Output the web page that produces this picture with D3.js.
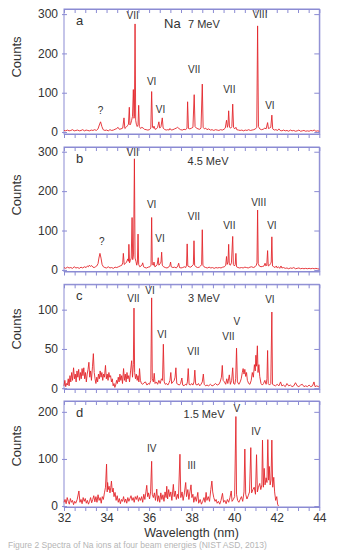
<!DOCTYPE html>
<html>
<head>
<meta charset="utf-8">
<script src="https://cdn.jsdelivr.net/npm/d3@7/dist/d3.min.js"></script>
<style>
  body { margin: 0; background: #fff; }
  text { font-family: "Liberation Sans", Arial, sans-serif; fill: #333; }
  .frame { fill: none; stroke: #8b8bd3; stroke-width: 1; }
  .axis path, .axis line { stroke: #8b8bd3; stroke-width: 1; }
  .axis text { font-size: 12px; fill: #333; }
  .spec { fill: none; stroke: #e3262b; stroke-width: 0.9; stroke-linejoin: round; }
  .lab { font-size: 10px; text-anchor: middle; }
</style>
</head>
<body>
<div class="chart"></div>
<script>
// x tick marks (nm) and the labelled ones
var xTickMarks = [32, 32.5, 33, 33.5, 34, 34.5, 35, 35.5, 36, 36.5, 37, 37.5, 38, 38.5, 39, 39.5, 40, 40.5, 41, 41.5, 42, 42.5, 43, 43.5, 44]
var xTickLabels = [32, 34, 36, 38, 40, 42, 44]

var yTicksA = [0, 100, 200, 300]
var yTicksB = [0, 100, 200, 300]
var yTicksC = [0, 50, 100]
var yTicksD = [0, 100, 200]

// spectra: [wavelength nm, counts]
var specA = [[32.00,4],[32.08,3],[32.16,5],[32.24,3],[32.32,4],[32.40,6],[32.48,3],[32.56,4],[32.64,5],[32.72,3],[32.80,4],[32.88,6],[32.96,3],[33.04,5],[33.12,4],[33.20,3],[33.28,5],[33.36,4],[33.44,6],[33.52,4],[33.60,8],[33.66,18],[33.72,26],[33.78,14],[33.84,6],[33.92,4],[34.00,5],[34.08,3],[34.16,6],[34.24,4],[34.32,5],[34.40,7],[34.48,9],[34.54,12],[34.60,7],[34.68,8],[34.76,10],[34.82,36],[34.86,9],[34.92,12],[34.98,16],[35.03,20],[35.07,63],[35.10,18],[35.14,22],[35.18,30],[35.22,40],[35.26,108],[35.29,35],[35.31,40],[35.34,275],[35.37,30],[35.40,20],[35.44,14],[35.48,18],[35.51,68],[35.54,14],[35.60,9],[35.66,12],[35.72,10],[35.78,7],[35.86,6],[35.94,5],[36.02,6],[36.08,10],[36.12,103],[36.16,12],[36.20,10],[36.23,15],[36.28,7],[36.34,8],[36.40,12],[36.46,26],[36.50,10],[36.56,14],[36.62,36],[36.66,10],[36.72,7],[36.80,5],[36.88,6],[36.94,5],[36.98,9],[37.04,5],[37.12,6],[37.20,8],[37.28,10],[37.34,12],[37.40,9],[37.48,6],[37.56,5],[37.64,7],[37.72,6],[37.78,10],[37.81,77],[37.85,9],[37.92,8],[38.00,10],[38.06,12],[38.12,95],[38.16,14],[38.22,10],[38.30,8],[38.38,7],[38.44,10],[38.50,122],[38.54,12],[38.60,8],[38.66,10],[38.72,6],[38.80,8],[38.88,5],[38.96,6],[39.04,4],[39.12,6],[39.20,5],[39.28,4],[39.36,6],[39.44,5],[39.52,7],[39.58,10],[39.64,30],[39.68,12],[39.71,18],[39.74,54],[39.78,12],[39.84,10],[39.89,14],[39.93,71],[39.97,12],[40.02,8],[40.08,12],[40.12,6],[40.20,5],[40.28,4],[40.36,5],[40.44,3],[40.52,5],[40.60,4],[40.68,6],[40.76,4],[40.84,5],[40.92,6],[41.00,8],[41.06,12],[41.10,270],[41.14,14],[41.20,8],[41.28,6],[41.36,7],[41.44,10],[41.50,8],[41.57,24],[41.61,9],[41.66,10],[41.72,12],[41.77,43],[41.81,8],[41.88,5],[41.96,6],[42.04,4],[42.10,8],[42.16,4],[42.24,3],[42.32,5],[42.40,3],[42.48,4],[42.56,2],[42.64,5],[42.72,3],[42.80,4],[42.88,2],[42.96,3],[43.04,5],[43.12,2],[43.20,3],[43.28,4],[43.36,2],[43.44,3],[43.52,2],[43.60,4],[43.68,3],[43.76,5],[43.84,2],[43.92,3],[44.00,2]]

var specB = [[32.00,6],[32.08,4],[32.16,7],[32.24,5],[32.32,6],[32.40,4],[32.48,8],[32.56,5],[32.64,6],[32.72,4],[32.80,7],[32.88,5],[32.96,8],[33.04,6],[33.10,10],[33.15,8],[33.19,12],[33.24,9],[33.30,11],[33.36,7],[33.42,6],[33.48,8],[33.54,10],[33.60,16],[33.64,30],[33.69,42],[33.74,30],[33.79,14],[33.85,8],[33.92,6],[34.00,5],[34.08,8],[34.16,5],[34.24,6],[34.32,4],[34.40,7],[34.48,6],[34.56,8],[34.64,10],[34.72,12],[34.76,18],[34.79,42],[34.83,14],[34.88,16],[34.94,20],[35.00,28],[35.03,22],[35.05,65],[35.08,18],[35.12,24],[35.16,30],[35.20,133],[35.23,26],[35.27,40],[35.31,282],[35.34,30],[35.38,22],[35.42,12],[35.45,20],[35.48,91],[35.51,14],[35.56,8],[35.62,10],[35.66,12],[35.70,18],[35.74,8],[35.80,6],[35.88,5],[35.96,7],[36.04,8],[36.09,12],[36.12,133],[36.15,14],[36.20,12],[36.23,20],[36.27,8],[36.33,10],[36.38,14],[36.43,31],[36.46,12],[36.52,16],[36.56,20],[36.59,45],[36.62,12],[36.68,8],[36.76,6],[36.84,5],[36.92,7],[36.98,12],[37.01,20],[37.04,8],[37.12,6],[37.20,7],[37.28,5],[37.35,10],[37.39,17],[37.43,6],[37.50,5],[37.58,6],[37.66,8],[37.72,6],[37.76,12],[37.79,66],[37.82,10],[37.88,8],[37.96,7],[38.02,10],[38.08,14],[38.11,74],[38.14,12],[38.20,8],[38.28,6],[38.36,7],[38.42,10],[38.47,14],[38.50,102],[38.53,12],[38.58,8],[38.66,6],[38.74,5],[38.82,7],[38.90,5],[38.98,6],[39.06,4],[39.14,6],[39.22,5],[39.30,6],[39.38,5],[39.46,7],[39.54,8],[39.60,12],[39.64,34],[39.67,14],[39.71,20],[39.74,65],[39.77,14],[39.82,12],[39.87,18],[39.93,85],[39.96,14],[40.01,10],[40.05,14],[40.08,42],[40.11,8],[40.18,6],[40.26,5],[40.34,6],[40.42,5],[40.50,7],[40.58,6],[40.66,5],[40.74,7],[40.82,8],[40.90,6],[40.98,8],[41.04,12],[41.07,18],[41.10,152],[41.13,16],[41.18,10],[41.26,8],[41.34,9],[41.40,10],[41.45,17],[41.49,10],[41.53,12],[41.57,49],[41.60,10],[41.66,12],[41.71,16],[41.74,20],[41.77,84],[41.80,10],[41.86,8],[41.92,6],[41.98,10],[42.02,5],[42.08,8],[42.14,4],[42.20,10],[42.24,5],[42.32,6],[42.40,4],[42.48,5],[42.56,3],[42.64,5],[42.72,4],[42.80,6],[42.88,3],[42.96,4],[43.04,5],[43.12,3],[43.20,4],[43.28,3],[43.36,4],[43.44,3],[43.52,4],[43.60,3],[43.68,4],[43.76,3],[43.84,4],[43.92,3],[44.00,2]]

var specC = [[32.00,3],[32.04,10],[32.08,2],[32.12,6],[32.16,4],[32.20,12],[32.24,3],[32.28,16],[32.32,8],[32.36,20],[32.40,10],[32.45,26],[32.49,12],[32.53,18],[32.57,8],[32.61,22],[32.65,14],[32.69,24],[32.73,10],[32.77,20],[32.81,12],[32.85,25],[32.89,16],[32.93,26],[32.97,12],[33.01,20],[33.05,8],[33.09,18],[33.13,24],[33.17,33],[33.21,14],[33.25,22],[33.29,10],[33.34,28],[33.38,44],[33.42,20],[33.46,12],[33.50,6],[33.54,14],[33.58,8],[33.62,18],[33.66,12],[33.70,22],[33.74,14],[33.78,20],[33.82,10],[33.86,18],[33.90,14],[33.95,29],[33.99,12],[34.03,18],[34.07,10],[34.11,20],[34.15,14],[34.19,16],[34.23,8],[34.27,12],[34.31,3],[34.35,6],[34.39,1],[34.43,4],[34.47,10],[34.51,6],[34.55,14],[34.59,8],[34.63,18],[34.67,10],[34.71,16],[34.75,6],[34.80,25],[34.84,10],[34.88,18],[34.92,8],[34.96,20],[35.00,12],[35.04,16],[35.08,8],[35.13,22],[35.18,35],[35.22,14],[35.26,30],[35.29,102],[35.32,20],[35.36,12],[35.40,18],[35.44,10],[35.48,16],[35.52,8],[35.55,25],[35.59,10],[35.64,6],[35.70,5],[35.76,7],[35.83,8],[35.90,4],[35.96,6],[36.02,5],[36.08,10],[36.12,115],[36.15,12],[36.20,8],[36.24,19],[36.28,6],[36.34,8],[36.40,5],[36.46,10],[36.52,6],[36.58,12],[36.63,10],[36.67,56],[36.71,8],[36.76,5],[36.82,6],[36.88,4],[36.94,7],[36.98,10],[37.02,20],[37.06,6],[37.12,8],[37.18,10],[37.22,14],[37.26,26],[37.30,6],[37.36,5],[37.42,4],[37.48,6],[37.54,13],[37.58,4],[37.64,3],[37.70,5],[37.76,4],[37.80,8],[37.84,25],[37.88,5],[37.94,4],[38.00,6],[38.06,4],[38.11,8],[38.15,23],[38.19,5],[38.26,4],[38.32,6],[38.38,3],[38.44,5],[38.50,8],[38.55,18],[38.59,5],[38.66,3],[38.72,4],[38.80,3],[38.88,5],[38.96,3],[39.04,4],[39.12,6],[39.20,4],[39.28,5],[39.34,8],[39.40,14],[39.44,29],[39.48,10],[39.54,8],[39.60,5],[39.65,12],[39.70,6],[39.77,17],[39.82,5],[39.88,10],[39.93,26],[39.97,6],[40.03,5],[40.07,12],[40.11,51],[40.15,8],[40.22,5],[40.28,8],[40.33,12],[40.38,20],[40.42,25],[40.46,18],[40.50,24],[40.54,15],[40.58,20],[40.62,10],[40.68,6],[40.74,5],[40.80,10],[40.85,20],[40.90,14],[40.95,30],[40.99,22],[41.02,42],[41.05,28],[41.09,54],[41.12,20],[41.16,30],[41.20,15],[41.26,6],[41.32,4],[41.38,6],[41.44,10],[41.50,5],[41.54,12],[41.57,48],[41.60,6],[41.66,4],[41.72,6],[41.77,97],[41.80,5],[41.86,4],[41.94,3],[42.02,5],[42.10,3],[42.18,8],[42.24,3],[42.32,4],[42.40,2],[42.48,6],[42.56,3],[42.64,4],[42.72,2],[42.80,3],[42.88,7],[42.96,3],[43.04,2],[43.12,4],[43.20,5],[43.28,2],[43.36,3],[43.44,2],[43.52,4],[43.60,2],[43.68,3],[43.75,8],[43.80,2],[43.88,3],[43.96,2],[44.00,3]]

var specD = [[32.00,8],[32.05,14],[32.10,5],[32.15,18],[32.20,10],[32.25,4],[32.30,16],[32.35,8],[32.40,12],[32.45,3],[32.50,10],[32.55,6],[32.62,14],[32.70,32],[32.75,8],[32.80,14],[32.85,5],[32.90,18],[32.95,10],[33.00,16],[33.05,6],[33.10,12],[33.15,4],[33.20,10],[33.25,18],[33.30,7],[33.35,14],[33.40,22],[33.45,9],[33.50,20],[33.55,8],[33.60,24],[33.65,12],[33.70,18],[33.75,6],[33.80,20],[33.85,14],[33.90,28],[33.95,40],[34.00,89],[34.03,30],[34.05,50],[34.08,35],[34.12,42],[34.16,28],[34.20,40],[34.23,53],[34.27,30],[34.31,38],[34.35,20],[34.40,29],[34.45,12],[34.50,22],[34.55,8],[34.60,16],[34.65,5],[34.70,14],[34.75,10],[34.80,20],[34.85,8],[34.90,15],[34.95,6],[35.00,18],[35.05,10],[35.10,16],[35.15,22],[35.20,12],[35.25,18],[35.30,8],[35.35,20],[35.40,14],[35.45,22],[35.50,10],[35.55,18],[35.60,12],[35.65,20],[35.70,8],[35.75,25],[35.80,14],[35.85,30],[35.89,44],[35.93,20],[35.97,28],[36.02,15],[36.07,30],[36.12,95],[36.15,25],[36.20,18],[36.25,28],[36.30,12],[36.36,36],[36.40,10],[36.45,22],[36.50,8],[36.55,28],[36.60,14],[36.65,24],[36.70,10],[36.75,30],[36.80,18],[36.83,42],[36.87,15],[36.92,35],[36.97,20],[37.02,30],[37.07,12],[37.14,46],[37.18,20],[37.23,32],[37.28,14],[37.33,25],[37.38,16],[37.45,110],[37.49,18],[37.55,30],[37.60,12],[37.66,28],[37.72,50],[37.76,20],[37.82,35],[37.87,14],[37.92,30],[37.97,45],[38.01,18],[38.06,25],[38.10,8],[38.16,20],[38.22,10],[38.29,29],[38.33,6],[38.40,14],[38.46,4],[38.52,10],[38.58,18],[38.63,8],[38.68,29],[38.72,12],[38.78,20],[38.84,10],[38.90,35],[38.95,53],[38.99,30],[39.04,18],[39.10,10],[39.15,14],[39.20,6],[39.26,10],[39.32,4],[39.38,12],[39.45,27],[39.50,8],[39.56,12],[39.62,5],[39.68,14],[39.74,8],[39.80,18],[39.86,32],[39.90,10],[39.96,14],[40.02,20],[40.08,190],[40.11,25],[40.16,12],[40.22,8],[40.28,14],[40.34,20],[40.40,10],[40.46,30],[40.50,121],[40.54,25],[40.60,15],[40.66,22],[40.72,30],[40.78,124],[40.82,28],[40.88,35],[40.94,40],[41.00,25],[41.05,109],[41.09,30],[41.14,40],[41.20,48],[41.25,35],[41.30,45],[41.33,140],[41.37,40],[41.41,80],[41.45,45],[41.50,60],[41.54,50],[41.58,141],[41.62,55],[41.65,84],[41.69,45],[41.73,55],[41.77,140],[41.81,40],[41.86,61],[41.90,30],[41.95,12],[42.00,20],[42.04,4],[42.08,0]]

// ion-stage labels: [text, wavelength, counts]
var labelsA = [["?",33.72,47],["VII",35.23,287],["VI",36.12,119],["VI",36.54,49],["VII",38.12,151],["VII",39.77,100],["VIII",41.21,289],["VI",41.68,58]]
var labelsB = [["?",33.77,63],["VII",35.23,290],["VI",36.12,158],["VI",36.51,70],["VII",38.11,127],["VII",39.77,104],["VIII",41.15,163],["VI",41.77,104]]
var labelsC = [["VII",35.26,110],["VI",36.04,120],["VI",36.61,64],["VII",38.08,42],["VII",39.73,62],["V",40.12,80],["VI",41.68,108]]
var labelsD = [["IV",36.12,115],["III",38.00,79],["V",40.12,199],["IV",41.02,150]]

var panelLetters = ["a", "b", "c", "d"]
var energies = ["7 MeV", "4.5 MeV", "3 MeV", "1.5 MeV"]

var svg_width = 341
var svg_height = 550

var svg = d3.select(".chart")
	.append("svg")
	.attr("width", svg_width)
	.attr("height", svg_height)

var xScale = d3.scaleLinear().domain([32, 44]).range([64, 319.3])

// panel layout
var panels = [
	{ spec: specA, ticks: yTicksA, labels: labelsA, domain: [-5, 313], range: [134, 9], countsY: 57 },
	{ spec: specB, ticks: yTicksB, labels: labelsB, domain: [-4, 312], range: [271.5, 147], countsY: 195 },
	{ spec: specC, ticks: yTicksC, labels: labelsC, domain: [-1, 132.3], range: [389, 284.3], countsY: 329 },
	{ spec: specD, ticks: yTicksD, labels: labelsD, domain: [-2, 223], range: [507, 401], countsY: 446 }
]

panels.forEach(function(p, i) {
	var yScale = d3.scaleLinear().domain(p.domain).range(p.range)
	var top = p.range[1], bottom = p.range[0]
	var g = svg.append("g")

	// top axis, ticks pointing in
	g.append("g").attr("class", "axis")
		.attr("transform", `translate(0,${top})`)
		.call(d3.axisTop(xScale).tickValues(xTickMarks).tickSizeInner(-4).tickSizeOuter(0).tickFormat(""))

	// bottom axis, ticks pointing down
	var bottomAxis = d3.axisBottom(xScale).tickValues(xTickMarks).tickSizeInner(4).tickSizeOuter(0)
		.tickFormat(d => (i == 3 && xTickLabels.indexOf(d) >= 0) ? d : "")
	var bx = g.append("g").attr("class", "axis")
		.attr("transform", `translate(0,${bottom})`)
		.call(bottomAxis)
	bx.selectAll("text").attr("y", 0).attr("dy", 0).attr("transform", "translate(0,15)").style("font-size", "12px")

	// left axis with labels
	var lx = g.append("g").attr("class", "axis")
		.attr("transform", `translate(${xScale(32)},0)`)
		.call(d3.axisLeft(yScale).tickValues(p.ticks).tickSizeInner(2).tickSizeOuter(0).tickPadding(4))
	lx.select(".domain").remove()
	lx.selectAll(".tick line").attr("x2", 3).attr("x1", -2)

	// right axis, ticks pointing in
	g.append("g").attr("class", "axis")
		.attr("transform", `translate(${xScale(44)},0)`)
		.call(d3.axisRight(yScale).tickValues(p.ticks).tickSizeInner(-5).tickSizeOuter(0).tickFormat(""))

	g.append("rect").attr("class", "frame")
		.attr("x", xScale(32)).attr("y", top)
		.attr("width", xScale(44) - xScale(32)).attr("height", bottom - top)

	// spectrum
	var line = d3.line().x(d => xScale(d[0])).y(d => yScale(d[1]))
	g.append("path").datum(p.spec).attr("class", "spec").attr("d", line)

	// ion labels
	g.selectAll("text.lab").data(p.labels).enter()
		.append("text").attr("class", "lab")
		.attr("x", d => xScale(d[1]))
		.attr("y", d => yScale(d[2]))
		.text(d => d[0])

	// panel letter
	g.append("text")
		.attr("x", 76).attr("y", top + 16)
		.style("font-size", "13px")
		.text(panelLetters[i])

	// Counts label
	g.append("text")
		.attr("transform", `translate(21, ${p.countsY}) rotate(-90)`)
		.attr("text-anchor", "middle")
		.style("font-size", "13px")
		.text("Counts")
})

// beam energy captions
svg.append("text").attr("x", 164).attr("y", 28).style("font-size", "13px").text("Na")
svg.append("text").attr("x", 188).attr("y", 28).style("font-size", "11px").text(energies[0])
svg.append("text").attr("x", 208).attr("y", 165).attr("text-anchor", "middle").style("font-size", "11px").text(energies[1])
svg.append("text").attr("x", 204).attr("y", 301.7).attr("text-anchor", "middle").style("font-size", "11px").text(energies[2])
svg.append("text").attr("x", 204).attr("y", 418.3).attr("text-anchor", "middle").style("font-size", "11px").text(energies[3])

// x axis label
svg.append("text")
	.attr("x", 191.5).attr("y", 537)
	.attr("text-anchor", "middle")
	.style("font-size", "12.5px")
	.text("Wavelength (nm)")

// figure caption at the bottom edge
svg.append("text")
	.attr("x", 8).attr("y", 547.5)
	.style("font-size", "8.5px").style("fill", "#b5b5b5")
	.text("Figure 2  Spectra of Na ions at four beam energies (NIST ASD, 2013)")
</script>
</body>
</html>
